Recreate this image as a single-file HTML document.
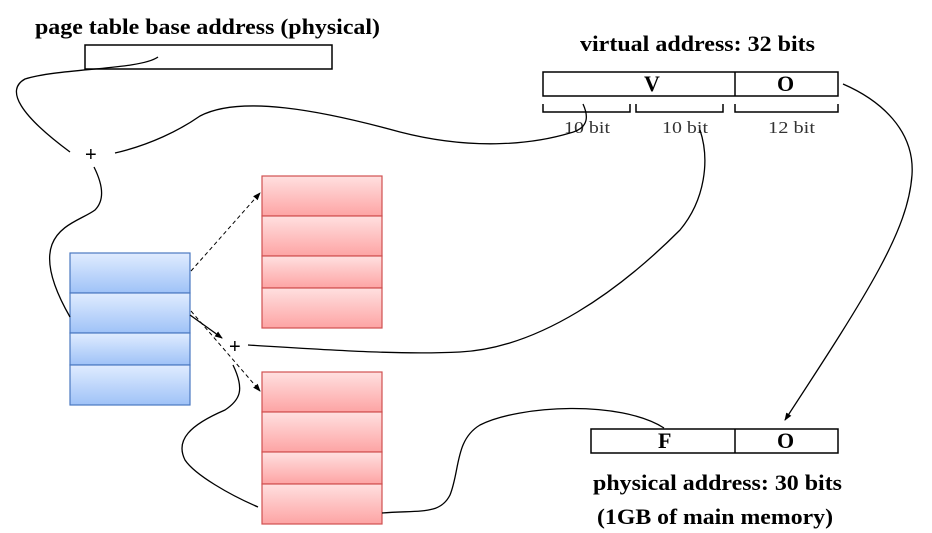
<!DOCTYPE html>
<html><head><style>
html,body{margin:0;padding:0;background:#fff;width:932px;height:533px;overflow:hidden}
</style></head><body>
<svg width="932" height="533" xmlns="http://www.w3.org/2000/svg" style="display:block">
<defs>
<linearGradient id="bl" x1="0" y1="0" x2="0" y2="1"><stop offset="0" stop-color="#e0ecff"/><stop offset="1" stop-color="#9fc2f7"/></linearGradient>
<linearGradient id="rd" x1="0" y1="0" x2="0" y2="1"><stop offset="0" stop-color="#ffe0e0"/><stop offset="1" stop-color="#fda4a4"/></linearGradient>
<marker id="ah" markerWidth="8" markerHeight="8" refX="7" refY="4" orient="auto" markerUnits="userSpaceOnUse"><path d="M0,1 L8,4 L0,7 Z" fill="#000"/></marker>
</defs>
<g font-family="Liberation Serif, serif" font-weight="bold" font-size="22" fill="#000">
<text x="35" y="34" textLength="345" lengthAdjust="spacingAndGlyphs">page table base address (physical)</text>
<text x="580" y="51" textLength="235" lengthAdjust="spacingAndGlyphs">virtual address: 32 bits</text>
<text x="593" y="490" textLength="249" lengthAdjust="spacingAndGlyphs">physical address: 30 bits</text>
<text x="597" y="524" textLength="236" lengthAdjust="spacingAndGlyphs">(1GB of main memory)</text>
<text x="644" y="91">V</text>
<text x="777" y="91">O</text>
<text x="658" y="448">F</text>
<text x="777" y="448">O</text>
</g>
<g fill="none" stroke="#000" stroke-width="1.5">
<rect x="85" y="45" width="247" height="24"/>
<rect x="543" y="72" width="295" height="24"/>
<line x1="735" y1="72" x2="735" y2="96"/>
<rect x="591" y="429" width="247" height="24"/>
<line x1="735" y1="429" x2="735" y2="453"/>
<path d="M543,104 V112 H630 V104 M636,104 V112 H723 V104 M735,104 V112 H838 V104"/>
</g>
<g font-family="Liberation Serif, serif" font-size="17" fill="#333">
<text x="564" y="133" textLength="46" lengthAdjust="spacingAndGlyphs">10 bit</text>
<text x="662" y="133" textLength="46" lengthAdjust="spacingAndGlyphs">10 bit</text>
<text x="768" y="133" textLength="47" lengthAdjust="spacingAndGlyphs">12 bit</text>
</g>
<g font-family="Liberation Sans, sans-serif" font-size="20" fill="#000">
<text x="85" y="161">+</text>
<text x="229" y="353">+</text>
</g>
<g stroke="#4a78c0" stroke-width="1.2" fill="url(#bl)">
<rect x="70" y="253" width="120" height="40"/>
<rect x="70" y="293" width="120" height="40"/>
<rect x="70" y="333" width="120" height="32"/>
<rect x="70" y="365" width="120" height="40"/>
</g>
<g stroke="#d05050" stroke-width="1.2" fill="url(#rd)">
<rect x="262" y="176" width="120" height="40"/>
<rect x="262" y="216" width="120" height="40"/>
<rect x="262" y="256" width="120" height="32"/>
<rect x="262" y="288" width="120" height="40"/>
<rect x="262" y="372" width="120" height="40"/>
<rect x="262" y="412" width="120" height="40"/>
<rect x="262" y="452" width="120" height="32"/>
<rect x="262" y="484" width="120" height="40"/>
</g>
<g fill="none" stroke="#000" stroke-width="1.3">
<path d="M158,57 C140,70 60,68 25,79 C5,90 20,115 70,152"/>
<path d="M115,153 C150,145 180,130 200,116 C240,95 320,110 400,132 C470,150 530,145 570,133 C590,128 588,115 583,104"/>
<path d="M94,167 C103,185 105,200 95,210 C75,225 20,230 70,317"/>
<path d="M190,315 L222,338" marker-end="url(#ah)"/>
<path d="M248,345 C330,350 400,355 460,352 C540,348 620,290 680,230 C705,200 710,160 700,130"/>
<path d="M233,365 C245,390 240,400 225,410 C190,425 175,440 185,460 C195,475 230,495 258,507"/>
<path d="M382,513 C420,510 440,515 450,495 C460,470 455,440 480,425 C520,405 620,400 664,428"/>
<path d="M843,84 C880,100 915,130 912,175 C908,230 870,290 785,420" marker-end="url(#ah)"/>
</g>
<g fill="none" stroke="#000" stroke-width="1" stroke-dasharray="4,3">
<path d="M191,271 L260,193" marker-end="url(#ah)"/>
<path d="M191,311 L260,391" marker-end="url(#ah)"/>
</g>
</svg>
</body></html>
